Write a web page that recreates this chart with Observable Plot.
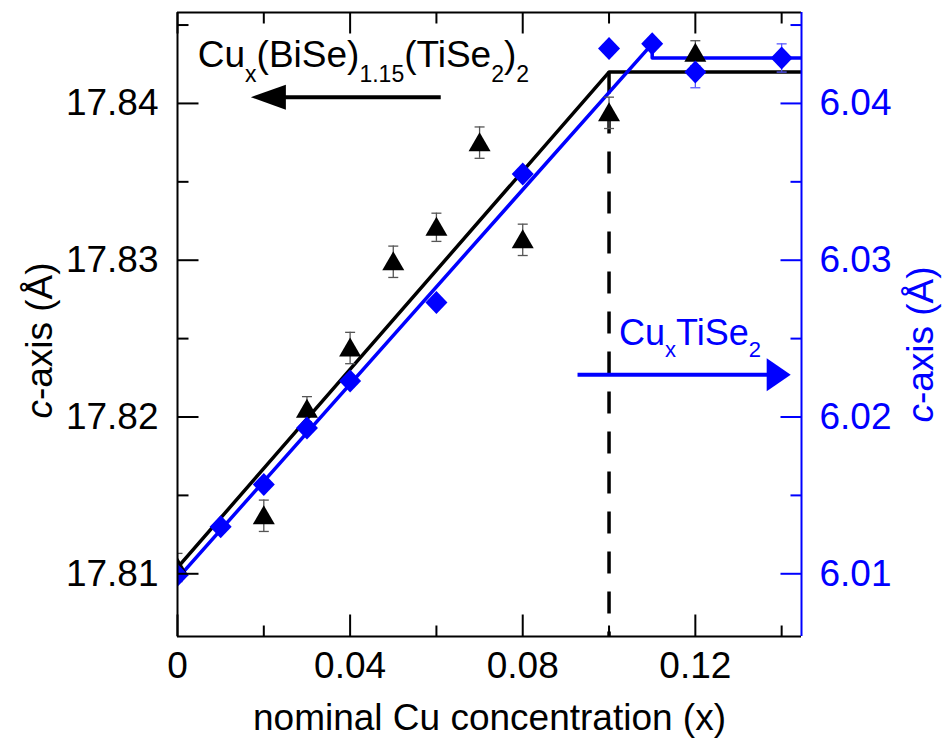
<!DOCTYPE html>
<html>
<head>
<meta charset="utf-8">
<script src="https://cdn.jsdelivr.net/npm/d3@7"></script>
<script src="https://cdn.jsdelivr.net/npm/@observablehq/plot@0.6"></script>
<style>
  html, body { margin: 0; padding: 0; background: #ffffff; }
  #chart svg { display: block; }
</style>
</head>
<body>
<div id="chart"></div>
<script>
// ---------------- data ----------------
// Cu_x(BiSe)1.15(TiSe2)2 : c-axis (left axis, Å)
const bisX   = [0, 0.02, 0.03, 0.04, 0.05, 0.06, 0.07, 0.08, 0.10, 0.12];
const bisC   = [17.8104, 17.8137, 17.8205, 17.8244, 17.8299, 17.8321, 17.8375, 17.8313, 17.8394, 17.8432];
const bisErr = [0.0009, 0.0010, 0.0008, 0.0010, 0.0010, 0.0009, 0.0010, 0.0010, 0.0010, 0.0008];

// Cu_xTiSe2 : c-axis (right axis, Å)
const tisX   = [0, 0.01, 0.02, 0.03, 0.04, 0.06, 0.08, 0.10, 0.11, 0.12, 0.14];
const tisC   = [6.0099, 6.0130, 6.0157, 6.0193, 6.0223, 6.0273, 6.0355, 6.0435, 6.0438, 6.0420, 6.0429];
const tisErr = [0, 0, 0, 0, 0, 0, 0, 0, 0, 0.0010, 0.0009];

// guide-to-the-eye fit lines
const fitBisX = [0, 0.10, 0.15];
const fitBisC = [17.8104, 17.8420, 17.8420];
const fitTisX = [0, 0.11, 0.11, 0.15];
const fitTisC = [6.0097, 6.0438, 6.0429, 6.0429];

// saturation boundary
const boundaryX = [0.10];

// ticks
const xMajor = [0, 0.04, 0.08, 0.12];
const xMinor = [0.02, 0.06, 0.10, 0.14];
const leftMajor = [17.81, 17.82, 17.83, 17.84];
const leftMinor = [17.815, 17.825, 17.835, 17.845];
const rightMajor = [6.01, 6.02, 6.03, 6.04];
const rightMinor = [6.015, 6.025, 6.035, 6.045];

// labels
const xTitle = "nominal Cu concentration (x)";
const yTitle = "c-axis (Å)";
const bisLabel = "Cux(BiSe)1.15(TiSe2)2";
const tisLabel = "CuxTiSe2";

// ---------------- setup ----------------
const X_DOMAIN = [0, 0.1446];
const Y_DOMAIN = [17.806, 17.8458];
const OFFSET = 11.8;            // right axis value = left axis value - OFFSET
const BLUE = "#0000ff";
const FONT = "'Liberation Sans', Arial, Helvetica, sans-serif";
const FS = 37;

const bisRows = bisX.map((x, i) => ({x, c: bisC[i], e: bisErr[i]}));
const tisRows = tisX.map((x, i) => ({x, c: tisC[i] + OFFSET, e: tisErr[i]}));
const tisErrRows = tisRows.filter(d => d.e > 0);
const fitBisRows = fitBisX.map((x, i) => ({x, c: fitBisC[i]}));
const fitTisRows = fitTisX.map((x, i) => ({x, c: fitTisC[i] + OFFSET}));

// custom marker shapes
const triangle = {draw(ctx) { ctx.moveTo(0, -10.5); ctx.lineTo(11, 8.5); ctx.lineTo(-11, 8.5); ctx.closePath(); }};
const diamond  = {draw(ctx) { ctx.moveTo(0, -11.5); ctx.lineTo(11, 0); ctx.lineTo(0, 11.5); ctx.lineTo(-11, 0); ctx.closePath(); }};
const cap      = {draw(ctx) { ctx.moveTo(-5, 0); ctx.lineTo(5, 0); }};
const tickRight = len => ({draw(ctx) { ctx.moveTo(0, 0); ctx.lineTo(len, 0); }});
const tickLeft  = len => ({draw(ctx) { ctx.moveTo(0, 0); ctx.lineTo(-len, 0); }});
const tickUp    = len => ({draw(ctx) { ctx.moveTo(0, 0); ctx.lineTo(0, -len); }});
const tickDown  = len => ({draw(ctx) { ctx.moveTo(0, 0); ctx.lineTo(0, len); }});
const headLeft  = {draw(ctx) { ctx.moveTo(0, 0); ctx.lineTo(35, -12.5); ctx.lineTo(35, 12.5); ctx.closePath(); }};
const headRight = {draw(ctx) { ctx.moveTo(0, 0); ctx.lineTo(-24, -16.5); ctx.lineTo(-24, 16.5); ctx.closePath(); }};

const xL = () => X_DOMAIN[0], xR = () => X_DOMAIN[1];
const yB = () => Y_DOMAIN[0], yT = () => Y_DOMAIN[1];

// annotation anchors (data coordinates)
const bisArrow = {x1: 0.0610, x2: 0.0170, y: 17.8404};
const tisArrow = {x1: 0.0927, x2: 0.1421, y: 17.8227};

const chart = Plot.plot({
  width: 946,
  height: 745,
  marginLeft: 177,
  marginRight: 145,
  marginTop: 12,
  marginBottom: 109,
  style: {fontFamily: FONT, background: "#ffffff", color: "black", overflow: "visible"},
  x: {domain: X_DOMAIN, axis: null},
  y: {domain: Y_DOMAIN, axis: null},
  marks: [
    // boundary dashed line
    Plot.ruleX(boundaryX, {x: d => d, y1: () => fitBisC[1], y2: yB, stroke: "black", strokeWidth: 3.5, strokeDasharray: "22,18", clip: true}),
    // fit lines
    Plot.line(fitBisRows, {x: "x", y: "c", stroke: "black", strokeWidth: 3.5, clip: true}),
    Plot.line(fitTisRows, {x: "x", y: "c", stroke: BLUE, strokeWidth: 3.5, clip: true}),
    // error bars
    Plot.ruleX(bisRows, {x: "x", y1: d => d.c - d.e, y2: d => d.c + d.e, stroke: "#555", strokeWidth: 1.3, clip: true}),
    Plot.dot(bisRows, {x: "x", y: d => d.c + d.e, symbol: cap, stroke: "#555", strokeWidth: 1.3, fill: "none", clip: true}),
    Plot.dot(bisRows, {x: "x", y: d => d.c - d.e, symbol: cap, stroke: "#555", strokeWidth: 1.3, fill: "none", clip: true}),
    Plot.ruleX(tisErrRows, {x: "x", y1: d => d.c - d.e, y2: d => d.c + d.e, stroke: "#5a5aff", strokeWidth: 1.3, clip: true}),
    Plot.dot(tisErrRows, {x: "x", y: d => d.c + d.e, symbol: cap, stroke: "#5a5aff", strokeWidth: 1.3, fill: "none", clip: true}),
    Plot.dot(tisErrRows, {x: "x", y: d => d.c - d.e, symbol: cap, stroke: "#5a5aff", strokeWidth: 1.3, fill: "none", clip: true}),
    // markers
    Plot.dot(bisRows, {x: "x", y: "c", symbol: triangle, fill: "black", stroke: "none", clip: true}),
    Plot.dot(tisRows, {x: "x", y: "c", symbol: diamond, fill: BLUE, stroke: "none", clip: true}),

    // annotations
    Plot.link([bisArrow], {x1: "x1", x2: d => d.x2 + 0.002, y1: "y", y2: "y", stroke: "black", strokeWidth: 4}),
    Plot.dot([bisArrow], {x: "x2", y: "y", symbol: headLeft, fill: "black", stroke: "none"}),
    Plot.link([tisArrow], {x1: "x1", x2: d => d.x2 - 0.002, y1: "y", y2: "y", stroke: BLUE, strokeWidth: 4}),
    Plot.dot([tisArrow], {x: "x2", y: "y", symbol: headRight, fill: BLUE, stroke: "none"}),
    Plot.text([bisLabel], {x: () => 0.0047, y: () => 17.8423, text: d => d, textAnchor: "start", lineAnchor: "bottom", fontSize: 37, fill: "black"}),
    Plot.text([tisLabel], {x: () => 0.1023, y: () => 17.8246, text: d => d, textAnchor: "start", lineAnchor: "bottom", fontSize: 36, fill: BLUE}),

    // frame
    Plot.ruleY([0], {y: yB, stroke: "black", strokeWidth: 2}),
    Plot.ruleY([0], {y: yT, stroke: "black", strokeWidth: 2}),
    Plot.ruleX([0], {x: xL, stroke: "black", strokeWidth: 2}),
    Plot.ruleX([0], {x: xR, stroke: BLUE, strokeWidth: 2}),

    // inward ticks
    Plot.dot(leftMajor, {x: xL, y: d => d, symbol: tickRight(21), stroke: "black", strokeWidth: 2, fill: "none"}),
    Plot.dot(leftMinor, {x: xL, y: d => d, symbol: tickRight(11), stroke: "black", strokeWidth: 2, fill: "none"}),
    Plot.dot(rightMajor, {x: xR, y: d => d + OFFSET, symbol: tickLeft(21), stroke: BLUE, strokeWidth: 2, fill: "none"}),
    Plot.dot(rightMinor, {x: xR, y: d => d + OFFSET, symbol: tickLeft(11), stroke: BLUE, strokeWidth: 2, fill: "none"}),
    Plot.dot(xMajor, {x: d => d, y: yB, symbol: tickUp(22), stroke: "black", strokeWidth: 2, fill: "none"}),
    Plot.dot(xMinor, {x: d => d, y: yB, symbol: tickUp(11), stroke: "black", strokeWidth: 2, fill: "none"}),
    Plot.dot(xMajor, {x: d => d, y: yT, symbol: tickDown(21), stroke: "black", strokeWidth: 2, fill: "none"}),
    Plot.dot(xMinor, {x: d => d, y: yT, symbol: tickDown(11), stroke: "black", strokeWidth: 2, fill: "none"}),

    // tick labels
    Plot.axisX({anchor: "bottom", ticks: xMajor, tickSize: 0, tickPadding: 15, fontSize: FS, label: null,
      tickFormat: d => d === 0 ? "0" : String(d)}),
    Plot.axisY({anchor: "left", ticks: leftMajor, tickSize: 0, tickPadding: 19, fontSize: FS, label: null,
      tickFormat: d => d.toFixed(2)}),
    Plot.axisY({anchor: "right", ticks: rightMajor.map(v => v + OFFSET), tickSize: 0, tickPadding: 18, fontSize: FS, label: null,
      fill: BLUE, tickFormat: d => (d - OFFSET).toFixed(2)}),

    // axis titles
    Plot.text([xTitle], {frameAnchor: "bottom", dy: 82, textAnchor: "middle", lineAnchor: "middle", text: d => d, fontSize: FS, fill: "black"}),
    Plot.text([yTitle], {frameAnchor: "left", dx: -137, dy: 16, rotate: -90, textAnchor: "middle", lineAnchor: "middle", text: d => d, fontSize: FS, fill: "black"}),
    Plot.text([yTitle], {frameAnchor: "right", dx: 120, dy: 20, rotate: -90, textAnchor: "middle", lineAnchor: "middle", text: d => d, fontSize: FS, fill: BLUE})
  ]
});

// rich text: italics and subscripts
chart.querySelectorAll("text").forEach(t => {
  const s = t.textContent;
  if (s === yTitle) {
    t.innerHTML = '<tspan font-style="italic">c</tspan>-axis (Å)';
  } else if (s === bisLabel) {
    const d = 15, f = 23;
    t.innerHTML = `Cu<tspan dy="${d}" font-size="${f}">x</tspan><tspan dy="${-d}">(BiSe)</tspan>` +
      `<tspan dy="${d}" font-size="${f}">1.15</tspan><tspan dy="${-d}">(TiSe</tspan>` +
      `<tspan dy="${d}" font-size="${f}">2</tspan><tspan dy="${-d}">)</tspan>` +
      `<tspan dy="${d}" font-size="${f}">2</tspan>`;
  } else if (s === tisLabel) {
    const d = 12, f = 22;
    t.innerHTML = `Cu<tspan dy="${d}" font-size="${f}">x</tspan><tspan dy="${-d}">TiSe</tspan>` +
      `<tspan dy="${d}" font-size="${f}">2</tspan>`;
  }
});

document.getElementById("chart").appendChild(chart);
</script>
</body>
</html>
